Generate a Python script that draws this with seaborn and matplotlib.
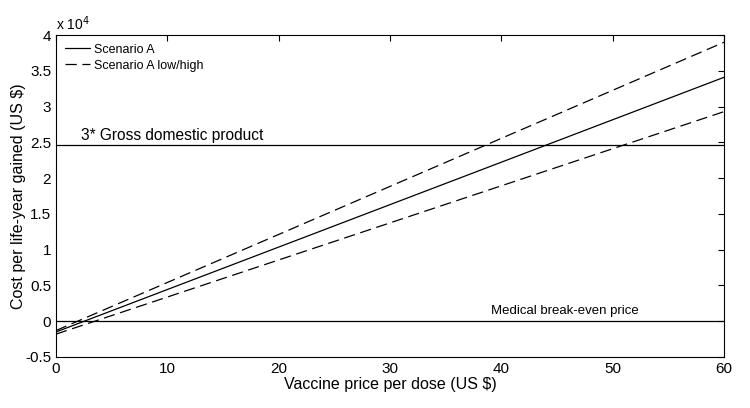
import matplotlib
matplotlib.use("Agg")
import matplotlib.pyplot as plt
import seaborn as sns
import pandas as pd
from matplotlib.ticker import FuncFormatter

# vaccine price per dose (US $) and cost per life-year gained (US $)
price = [0, 60]
cost_a = [-1500, 34100]
cost_high = [-1300, 39000]
cost_low = [-1800, 29300]
gdp_threshold = 24700
break_even = 0

sns.set_style("white")
plt.rcParams['font.family'] = ['Liberation Sans', 'DejaVu Sans']
plt.rcParams['text.color'] = 'black'
plt.rcParams['axes.labelcolor'] = 'black'

fig = plt.figure(figsize=(7.5, 4.08), dpi=100)
ax = fig.add_axes([0.0747, 0.125, 0.8907, 0.789])

df = pd.DataFrame({'price': price, 'a': cost_a, 'high': cost_high, 'low': cost_low})
sns.lineplot(data=df, x='price', y='a', color='black', lw=0.9, ax=ax, label='Scenario A')
sns.lineplot(data=df, x='price', y='high', color='black', lw=0.9, ax=ax,
             dashes=False, label='Scenario A low/high')
sns.lineplot(data=df, x='price', y='low', color='black', lw=0.9, ax=ax, label='_nolegend_')
for ln in ax.lines[1:3]:
    ln.set_dashes([9, 4.5])

ax.axhline(gdp_threshold, color='black', lw=0.9)
ax.axhline(break_even, color='black', lw=0.9)
ax.text(2.2, gdp_threshold + 700, '3* Gross domestic product', fontsize=11.2)
ax.text(45.7, break_even + 1000, 'Medical break-even price', fontsize=9.5, ha='center')

ax.set_xlim(0, 60)
ax.set_ylim(-5000, 40000)
ax.set_xticks(range(0, 61, 10))
ax.set_yticks([i * 5000 for i in range(-1, 9)])
ax.yaxis.set_major_formatter(FuncFormatter(lambda v, p: '%g' % (v / 1e4)))
ax.tick_params(direction='in', top=True, right=True, length=4, width=0.8,
               labelsize=11, colors='black')
for s in ax.spines.values():
    s.set_color('black')
    s.set_linewidth(0.8)
ax.set_xlabel('Vaccine price per dose (US $)', fontsize=11.5, labelpad=1)
ax.set_ylabel('Cost per life-year gained (US $)', fontsize=11.5, labelpad=-1)
ax.text(0, 1.005, 'x 10$^4$', transform=ax.transAxes, fontsize=10, va='bottom')

leg = ax.legend(loc='upper left', frameon=False, fontsize=9, handlelength=2.0,
                handletextpad=0.35, borderaxespad=0.3, labelspacing=0.3)
for h in leg.get_lines():
    h.set_linewidth(0.9)

fig.savefig('out.png', dpi=100)
